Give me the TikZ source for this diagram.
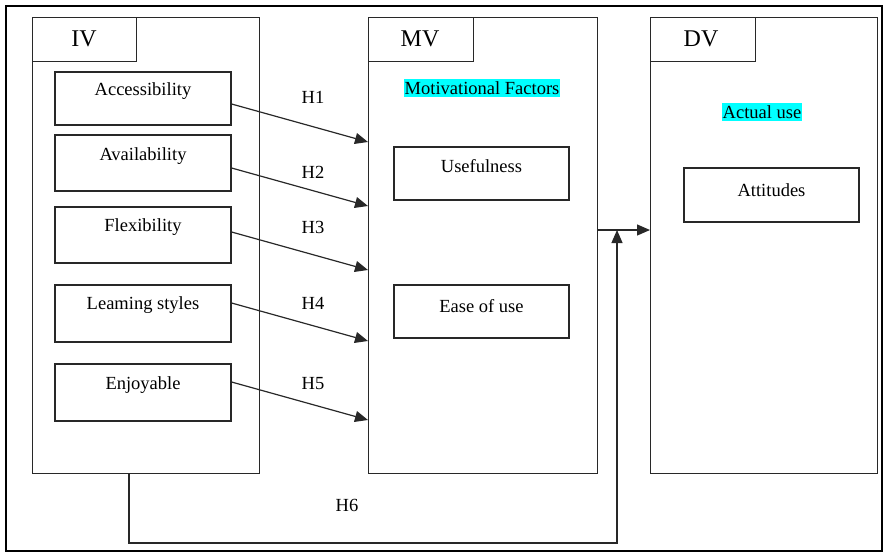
\documentclass[tikz,border=0pt]{standalone}
\usepackage{fontspec}
\setmainfont{Liberation Serif}
\usetikzlibrary{arrows.meta}
\definecolor{markcyan}{RGB}{0,255,255}
\definecolor{linegray}{RGB}{40,40,40}
\begin{document}
\begin{tikzpicture}[x=1pt,y=-1pt,
  line width=1.2pt, draw=linegray,
  frame/.style={draw, line width=2.6pt, black},
  group/.style={draw, rectangle, inner sep=0pt, anchor=north west},
  tab/.style={draw, rectangle, inner sep=0pt, anchor=north west, minimum width=104pt, minimum height=44pt},
  itembox/.style={draw, rectangle, inner sep=0pt, minimum width=176pt},
  txt/.style={font=\fontsize{18.5}{20}\selectfont, inner sep=0pt},
  head/.style={font=\fontsize{24}{26}\selectfont, inner sep=0pt},
  hilite/.style={txt, fill=markcyan, inner xsep=1pt, inner ysep=2pt},
  hyp/.style={-{Triangle[length=13pt,width=11pt]}},
]
\useasboundingbox (0,0) rectangle (885,555);
\draw[frame] (6,6) rectangle (882,551);

% Independent variables
\node[group, minimum width=227pt, minimum height=456pt] (iv) at (32,17) {};
\node[tab] (ivtab) at (32,17) {};
\node[head] (ivlbl) at (84,39) {IV};
\node[itembox, minimum height=53pt] (acc) at (143,98.5) {};
\node[txt] (acct) at (143,91) {Accessibility};
\node[itembox, minimum height=56pt] (ava) at (143,163) {};
\node[txt] (avat) at (143,156) {Availability};
\node[itembox, minimum height=56pt] (flx) at (143,235) {};
\node[txt] (flxt) at (143,227) {Flexibility};
\node[itembox, minimum height=57pt] (lrn) at (143,313.5) {};
\node[txt] (lrnt) at (143,305) {Leaming styles};
\node[itembox, minimum height=57pt] (enj) at (143,392.5) {};
\node[txt] (enjt) at (143,385) {Enjoyable};

% Mediating variables
\node[group, minimum width=229pt, minimum height=456pt] (mv) at (368,17) {};
\node[tab, minimum width=105pt] (mvtab) at (368,17) {};
\node[head] (mvlbl) at (420,39) {MV};
\node[hilite] (mot) at (482,88) {Motivational Factors};
\node[itembox, minimum width=175pt, minimum height=53pt] (use) at (481.5,173.5) {};
\node[txt] (uset) at (481.5,166) {Usefulness};
\node[itembox, minimum width=175pt, minimum height=53pt] (eou) at (481.5,311.5) {};
\node[txt] (eout) at (481.5,306) {Ease of use};

% Dependent variable
\node[group, minimum width=227pt, minimum height=456pt] (dv) at (650,17) {};
\node[tab, minimum width=105pt] (dvtab) at (650,17) {};
\node[head] (dvlbl) at (701,39) {DV};
\node[hilite] (act) at (762,112) {Actual use};
\node[itembox, minimum width=175pt, minimum height=54pt] (att) at (771.5,195) {};
\node[txt] (attt) at (771.5,190) {Attitudes};

% Hypothesis arrows
\coordinate (m1) at (368,142);
\coordinate (m2) at (368,206);
\coordinate (m3) at (368,270);
\coordinate (m4) at (368,341);
\coordinate (m5) at (368,420);
\draw[hyp] (acc.east |- 0,104) -- (m1);
\draw[hyp] (ava.east |- 0,168) -- (m2);
\draw[hyp] (flx.east |- 0,232) -- (m3);
\draw[hyp] (lrn.east |- 0,303) -- (m4);
\draw[hyp] (enj.east |- 0,382) -- (m5);
\node[txt] (h1) at (313,97) {H1};
\node[txt] (h2) at (313,172) {H2};
\node[txt] (h3) at (313,227) {H3};
\node[txt] (h4) at (313,303) {H4};
\node[txt] (h5) at (313,384) {H5};

% MV to DV
\coordinate (mvout) at (597,230);
\draw[hyp] (mvout) -- (mvout -| dv.west);

% H6: from IV round the bottom up to the MV-DV link
\coordinate (ivout) at (129,473);
\coordinate (join) at (617,230);
\draw[hyp] (ivout) -- (129,543) -- (617,543) -- (join);
\node[txt] (h6) at (347,505) {H6};
\end{tikzpicture}
\end{document}
